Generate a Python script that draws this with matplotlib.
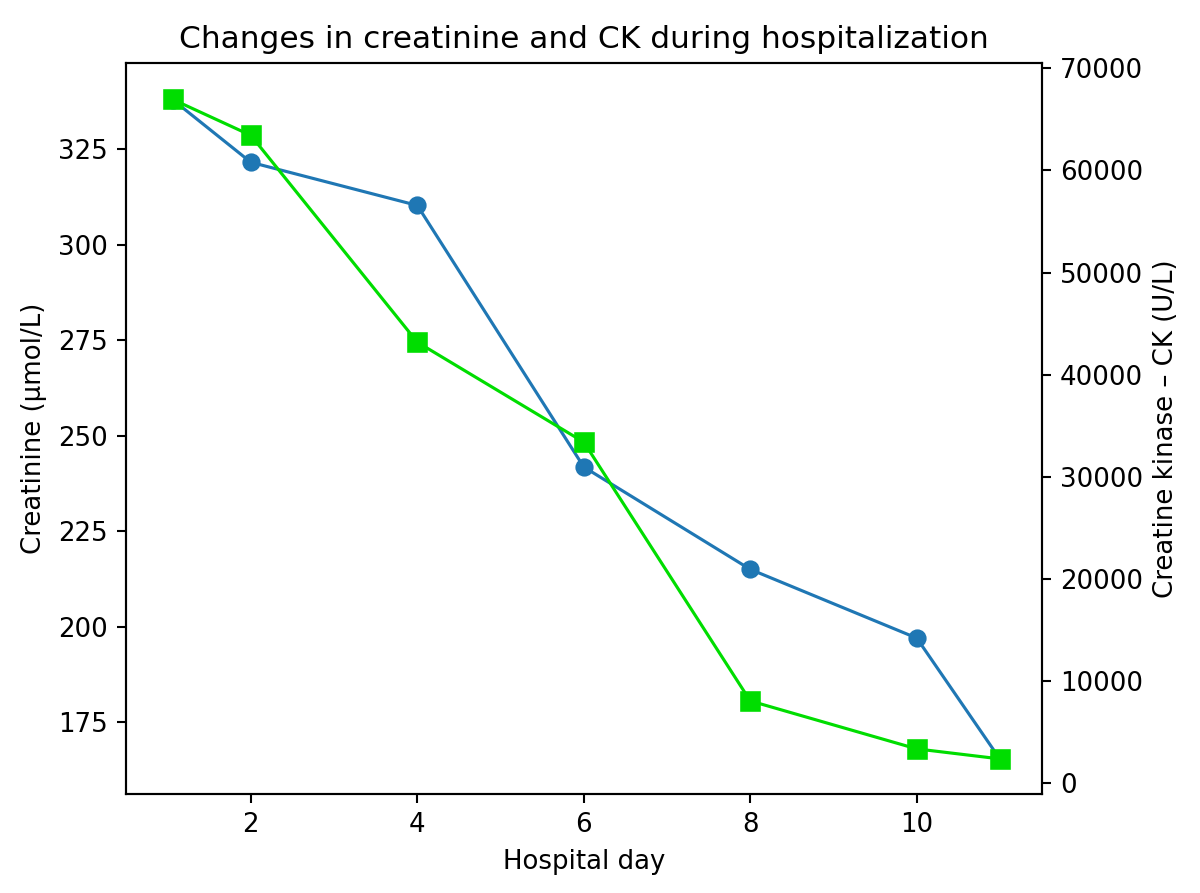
import matplotlib
matplotlib.use('Agg')
import matplotlib.pyplot as plt

# hospital day, creatinine (umol/L), CK (U/L)
days = [1.06, 2, 4, 6, 8, 10, 11]
creatinine = [338, 321.6, 310.3, 241.8, 215.0, 197.0, 165.3]
ck = [66965, 63440, 43175, 33385, 8030, 3330, 2350]

fig, ax1 = plt.subplots(figsize=(6.4, 4.7627), dpi=187.5)
fig.subplots_adjust(left=0.105, right=0.868, bottom=0.111, top=0.929)

ax1.plot(days, creatinine, color='#1f77b4', marker='o', markersize=6, linewidth=1.2)
ax1.set_xlim(0.5, 11.5)
ax1.set_ylim(156.2, 347.5)
ax1.set_xlabel('Hospital day')
ax1.set_ylabel('Creatinine (µmol/L)')
ax1.set_title('Changes in creatinine and CK during hospitalization')

ax2 = ax1.twinx()
ax2.plot(days, ck, color='#00dd00', marker='s', markersize=7, linewidth=1.2)
ax2.set_ylim(-1077, 70490)
ax2.set_ylabel('Creatine kinase – CK (U/L)')

fig.savefig('out.png')
